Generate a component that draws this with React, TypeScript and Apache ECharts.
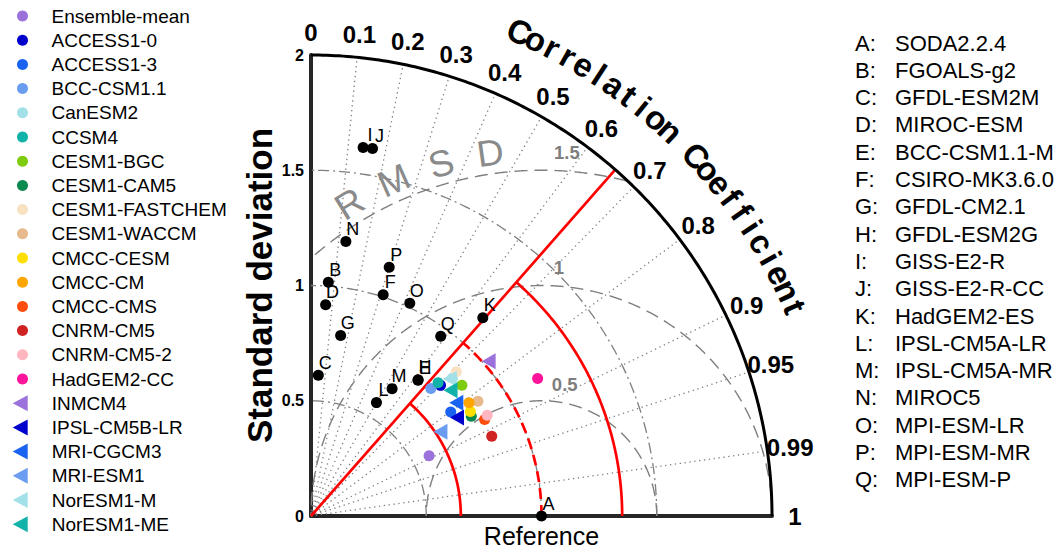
import React, { useEffect, useRef } from 'react';
import * as echarts from 'echarts';

const FONT = '"Liberation Sans", Arial, Helvetica, sans-serif';
const D2R = Math.PI / 180;

// ---- models (coloured markers) ----
const modelNames = [
  'Ensemble-mean', 'ACCESS1-0', 'ACCESS1-3', 'BCC-CSM1.1', 'CanESM2', 'CCSM4',
  'CESM1-BGC', 'CESM1-CAM5', 'CESM1-FASTCHEM', 'CESM1-WACCM', 'CMCC-CESM', 'CMCC-CM',
  'CMCC-CMS', 'CNRM-CM5', 'CNRM-CM5-2', 'HadGEM2-CC',
  'INMCM4', 'IPSL-CM5B-LR', 'MRI-CGCM3', 'MRI-ESM1', 'NorESM1-M', 'NorESM1-ME',
];
const modelColors = [
  '#9b72db', '#0000cd', '#1a62f0', '#6a9cf0', '#a3e1e8', '#10b2aa',
  '#7fcc0f', '#0b8a4f', '#f8e2c2', '#e8b98c', '#ffde00', '#ffa500',
  '#ff4d0d', '#cf2323', '#ffb6c1', '#ff149b',
  '#9b72db', '#0000cd', '#1a62f0', '#6a9cf0', '#a3e1e8', '#10b2aa',
];
const modelIsTriangle = [
  false, false, false, false, false, false, false, false, false, false, false, false,
  false, false, false, false, true, true, true, true, true, true,
];
const modelStd = [
  0.575, 0.798, 0.756, 0.759, 0.858, 0.799,
  0.866, 0.819, 0.888, 0.879, 0.827, 0.843,
  0.862, 0.857, 0.881, 1.150,
  1.022, 0.764, 0.799, 0.670, 0.847, 0.815,
];
const modelCor = [
  0.891, 0.704, 0.802, 0.685, 0.716, 0.690,
  0.756, 0.849, 0.710, 0.824, 0.836, 0.813,
  0.874, 0.915, 0.868, 0.855,
  0.754, 0.829, 0.789, 0.838, 0.711, 0.743,
];

// ---- lettered datasets (black dots) ----
const letterIds = ['A', 'B', 'C', 'D', 'E', 'F', 'G', 'H', 'I', 'J', 'K', 'L', 'M', 'N', 'O', 'P', 'Q'];
const letterNames = [
  'SODA2.2.4', 'FGOALS-g2', 'GFDL-ESM2M', 'MIROC-ESM', 'BCC-CSM1.1-M', 'CSIRO-MK3.6.0',
  'GFDL-CM2.1', 'GFDL-ESM2G', 'GISS-E2-R', 'GISS-E2-R-CC', 'HadGEM2-ES', 'IPSL-CM5A-LR',
  'IPSL-CM5A-MR', 'MIROC5', 'MPI-ESM-LR', 'MPI-ESM-MR', 'MPI-ESM-P',
];
const letterStd = [1.0, 1.017, 0.611, 0.919, 0.750, 1.010, 0.794, 0.752, 1.615, 1.617, 1.138, 0.568, 0.655, 1.200, 1.018, 1.131, 0.962];
const letterCor = [1.0, 0.074, 0.052, 0.069, 0.619, 0.310, 0.162, 0.618, 0.140, 0.165, 0.655, 0.500, 0.537, 0.126, 0.421, 0.300, 0.585];

// ---- diagram furniture ----
const corTicks = [0, 0.1, 0.2, 0.3, 0.4, 0.5, 0.6, 0.7, 0.8, 0.9, 0.95, 0.99, 1];
const corGrid = [0.1, 0.2, 0.3, 0.4, 0.5, 0.6, 0.7, 0.8, 0.9, 0.95, 0.99];
const stdArcs = [0.5, 1, 1.5];
const rmsdArcs = [0.5, 1, 1.5];
const rmsdLabelAngles = [80, 86, 86];
const rmsdWord = ['R', 'M', 'S', 'D'];
const corTitle = 'Correlation Coefficient';
const refStd = 1;
const stdMax = 2;
const redCor = 0.66;
const redArcs = [0.65, 1.35];

const TRI = 'path://M0,8L15,0L15,16Z';

const toXY = (s: number, c: number) => [s * c, s * Math.sqrt(Math.max(0, 1 - c * c))];

function txtStyle(text: string, size: number, color: string, weight: string | number = 'normal') {
  return {
    text,
    fill: color,
    fontSize: size,
    fontWeight: weight,
    fontFamily: FONT,
    align: 'center',
    verticalAlign: 'middle',
    textAlign: 'center',
    textVerticalAlign: 'middle',
  };
}

function renderDecor(_params: any, api: any) {
  const P = (x: number, y: number) => api.coord([x, y]);
  const O = P(0, 0);
  const unit = P(1, 0)[0] - O[0];
  const pol = (r: number, deg: number) => P(r * Math.cos(deg * D2R), r * Math.sin(deg * D2R));
  const polPx = (rpx: number, deg: number) => [O[0] + rpx * Math.cos(deg * D2R), O[1] - rpx * Math.sin(deg * D2R)];
  const ch: any[] = [];
  const GREY = '#7f7f7f';
  const line = (a: number[], b: number[], style: any) => ({
    type: 'line', shape: { x1: a[0], y1: a[1], x2: b[0], y2: b[1] }, style: { fill: null, ...style },
  });
  const poly = (pts: number[][], style: any) => ({ type: 'polyline', shape: { points: pts }, style: { fill: null, ...style } });
  const arc = (r: number, a0: number, a1: number) => {
    const pts: number[][] = [];
    const n = Math.max(8, Math.ceil(Math.abs(a1 - a0) * 2));
    for (let i = 0; i <= n; i++) pts.push(pol(r, a0 + ((a1 - a0) * i) / n));
    return pts;
  };

  // correlation rays (dotted)
  corGrid.forEach((c) => {
    const a = Math.acos(c) / D2R;
    ch.push(line(O, pol(stdMax, a), { stroke: GREY, lineWidth: 1.3, lineDash: [1.3, 3.6] }));
  });
  // standard deviation arcs (dash-dot)
  stdArcs.forEach((r) => ch.push(poly(arc(r, 0, 90), { stroke: GREY, lineWidth: 1.3, lineDash: [11, 4, 2, 4] })));
  // RMSD circles (dashed), centred on the reference
  rmsdArcs.forEach((rho) => {
    const pts: number[][] = [];
    for (let k = 0; k <= 720; k++) {
      const phi = k * 0.25 * D2R;
      const x = refStd + rho * Math.cos(phi);
      const y = rho * Math.sin(phi);
      if (x >= -1e-9 && x * x + y * y <= stdMax * stdMax + 1e-9) pts.push(P(x, y));
    }
    ch.push(poly(pts, { stroke: GREY, lineWidth: 1.4, lineDash: [13, 7] }));
  });
  // RMSD value labels
  rmsdArcs.forEach((rho, i) => {
    const a = rmsdLabelAngles[i] * D2R;
    const p = P(refStd + (rho + 0.08) * Math.cos(a), (rho + 0.08) * Math.sin(a));
    ch.push({ type: 'text', x: p[0], y: p[1], style: txtStyle(String(rho), 18.5, GREY, 'bold') });
  });
  // "R M S D" along an RMSD-centred arc
  rmsdWord.forEach((chr, i) => {
    const deg = 121.6 - i * 7.85;
    const p = P(refStd + 1.59 * Math.cos(deg * D2R), 1.59 * Math.sin(deg * D2R));
    ch.push({ type: 'text', x: p[0], y: p[1], rotation: (deg - 90) * D2R, style: txtStyle(chr, 37, '#8a8a8a') });
  });

  // red significance line + arcs
  const redA = Math.acos(redCor) / D2R;
  ch.push(line(O, pol(stdMax, redA), { stroke: '#ff0000', lineWidth: 2.7 }));
  redArcs.forEach((r) => ch.push(poly(arc(r, 0, redA), { stroke: '#ff0000', lineWidth: 2.7 })));
  ch.push(poly(arc(refStd, 0, redA), { stroke: '#ff0000', lineWidth: 2.7, lineDash: [11, 6] }));

  // outer boundary
  ch.push(poly(arc(stdMax, 0, 90), { stroke: '#000', lineWidth: 3, lineCap: 'butt' }));

  // correlation tick labels
  const R = stdMax * unit;
  corTicks.forEach((c) => {
    const a = Math.acos(c) / D2R;
    const p = polPx(R + 23, a);
    ch.push({ type: 'text', x: p[0], y: p[1], style: txtStyle(String(c), 24, '#000', 'bold') });
  });
  // curved title
  const chars = corTitle.split('');
  chars.forEach((chr, i) => {
    if (chr === ' ') return;
    const deg = 66.7 - i * 1.97;
    const p = polPx(R + 66, deg);
    ch.push({ type: 'text', x: p[0], y: p[1], rotation: (deg - 90) * D2R, style: txtStyle(chr, 33, '#000', 'bold') });
  });

  // axis titles
  const ref = P(refStd, 0);
  ch.push({ type: 'text', x: ref[0], y: ref[1] + 20, style: txtStyle('Reference', 25, '#000') });
  const mid = P(0, 1.0);
  ch.push({ type: 'text', x: mid[0] - 52, y: mid[1], rotation: Math.PI / 2, style: txtStyle('Standard deviation', 35, '#000', 'bold') });

  return { type: 'group', children: ch };
}

function buildOption() {
  const series: any[] = [];
  series.push({
    type: 'custom',
    coordinateSystem: 'cartesian2d',
    clip: false,
    silent: true,
    z: 1,
    data: [[0, 0]],
    renderItem: renderDecor,
  });
  series.push({
    type: 'scatter',
    name: 'letters',
    z: 3,
    symbol: 'circle',
    symbolSize: 11,
    itemStyle: { color: '#000', opacity: 1 },
    data: letterIds.map((id, i) => ({ name: id, value: toXY(letterStd[i], letterCor[i]) })),
    label: {
      show: true,
      formatter: '{b}',
      position: 'top',
      distance: -2,
      offset: [7, 0],
      fontSize: 18,
      color: '#000',
      fontFamily: FONT,
    },
  });
  modelNames.forEach((n, i) => {
    series.push({
      type: 'scatter',
      name: n,
      z: 4,
      symbol: modelIsTriangle[i] ? TRI : 'circle',
      symbolSize: modelIsTriangle[i] ? [14, 16] : 11,
      itemStyle: { color: modelColors[i], opacity: 1 },
      data: [toXY(modelStd[i], modelCor[i])],
    });
  });

  const circleNames = modelNames.filter((_, i) => !modelIsTriangle[i]);
  const triNames = modelNames.filter((_, i) => modelIsTriangle[i]);
  const legendText = { fontSize: 19, lineHeight: 20, color: '#000', fontFamily: FONT };

  const graphic: any[] = [];
  letterIds.forEach((id, i) => {
    const y = 43 + i * 27.3;
    graphic.push({
      type: 'text', x: 855, y,
      style: { text: id + ':', fill: '#000', font: `22px ${FONT}`, textAlign: 'left', textVerticalAlign: 'middle', align: 'left', verticalAlign: 'middle' },
    });
    graphic.push({
      type: 'text', x: 895, y,
      style: { text: letterNames[i], fill: '#000', font: `22px ${FONT}`, textAlign: 'left', textVerticalAlign: 'middle', align: 'left', verticalAlign: 'middle' },
    });
  });

  return {
    animation: false,
    backgroundColor: '#fff',
    grid: { left: 311, top: 55, width: 461, height: 461, containLabel: false },
    xAxis: {
      type: 'value', min: 0, max: stdMax,
      axisLine: { show: true, onZero: false, lineStyle: { color: '#262626', width: 4 } },
      axisTick: { show: false }, axisLabel: { show: false }, splitLine: { show: false },
    },
    yAxis: {
      type: 'value', min: 0, max: stdMax, interval: 0.5,
      axisLine: { show: true, onZero: false, lineStyle: { color: '#262626', width: 4 } },
      axisTick: { show: false },
      axisLabel: { show: true, fontSize: 16, fontWeight: 'bold', color: '#000', margin: 7, fontFamily: FONT },
      splitLine: { show: false },
    },
    legend: [
      {
        orient: 'vertical', left: 17, top: 6, padding: 0,
        itemWidth: 11, itemHeight: 11, itemGap: 4.2, icon: 'circle',
        selectedMode: false, data: circleNames,
        textStyle: { ...legendText, padding: [0, 0, 0, 18.5] },
      },
      {
        orient: 'vertical', left: 12.7, top: 393.2, padding: 0,
        itemWidth: 15, itemHeight: 16, itemGap: 4.2, icon: TRI,
        selectedMode: false, data: triNames,
        textStyle: { ...legendText, padding: [0, 0, 0, 19] },
      },
    ],
    graphic,
    series,
  };
}

export default function App() {
  const ref = useRef<HTMLDivElement>(null);
  useEffect(() => {
    const chart = echarts.init(ref.current!, null, { renderer: 'svg' });
    chart.setOption(buildOption() as any);
    return () => chart.dispose();
  }, []);
  return (
    <div
      ref={ref}
      style={{ position: 'fixed', left: 0, top: 0, width: 1060, height: 550, background: '#fff' }}
    />
  );
}
